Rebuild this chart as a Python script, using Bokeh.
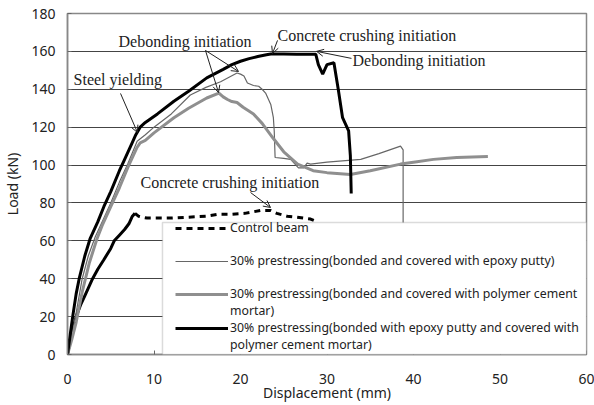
from bokeh.plotting import figure
from bokeh.models import (Range1d, FixedTicker, Legend, LegendItem, Label, Arrow,
                          OpenHead, BoxAnnotation)
from bokeh.embed import file_html
from bokeh.resources import INLINE

# ---------------- data ----------------
x_ticks = [0, 10, 20, 30, 40, 50, 60]
y_ticks = [0, 20, 40, 60, 80, 100, 120, 140, 160, 180]

ctrl_x = [0, 0.3, 0.6, 1.0, 1.5, 2.0, 2.9, 3.5, 4.2, 5.0, 5.4, 6.0, 6.6, 7.1, 7.5, 7.8,
          8.2, 8.6, 9.2, 10, 12, 14, 16, 17.3, 19, 20.5, 22.3, 23.5, 24.2, 25.4, 26.5,
          28.1, 28.9]
ctrl_y = [0, 7, 13, 20, 26, 31, 40, 45, 50, 56, 60, 63, 66, 69, 73, 74.5,
          73, 72.5, 72, 72, 72, 72.5, 73, 74, 74, 74.5, 76, 76, 74.5, 73, 72.5,
          71.5, 70]
ctrl_rise_end = 16   # the rising branch is drawn solid, the plateau dashed

epoxy_x = [0, 0.5, 1.0, 1.7, 2.4, 3.2, 4.0, 5.0, 6.0, 7.0, 8.05, 9, 10, 12, 14.2, 16,
           17.7, 19.6, 20.0, 20.4, 20.8, 21.5, 22.1, 22.5, 22.9, 23.5, 23.8, 23.9, 24.0,
           25.0, 25.8, 26.7, 27.3, 27.7, 28.1, 30, 33.9, 36, 38.5, 38.8, 38.8]
epoxy_y = [0, 10, 22, 40, 52, 62, 70, 80, 91, 101, 112.6, 116, 120, 127, 137, 141,
           144, 148.6, 148, 147, 143.3, 142, 141.6, 140, 138, 132, 125, 118, 104,
           103.5, 103, 98.5, 98.5, 101, 100.5, 101.5, 103, 106, 110, 108, 0]

pcm_x = [0, 0.5, 1.0, 1.7, 2.5, 3.4, 4.0, 5.0, 6.0, 7.0, 8.0, 8.4, 9, 10, 12.3, 14,
         16.1, 17.5, 18.0, 18.5, 19.0, 19.6, 20.3, 21.5, 22.5, 23.8, 25, 26.6, 28.4,
         30, 32.7, 35, 38.5, 40, 42.3, 45, 48.6]
pcm_y = [0, 8, 17, 33, 48, 61, 68, 78, 88, 99, 109, 111.7, 113, 117, 125, 130,
         135.4, 138, 136, 134.6, 133.5, 133, 130.5, 127, 122, 114, 107, 100.5, 97,
         96, 95, 97, 100.5, 101.5, 103, 104, 104.5]

mix_x = [0, 0.3, 0.6, 1.0, 1.35, 2.0, 2.6, 3.5, 4.2, 5.0, 6.0, 6.5, 7.0, 7.5, 7.9, 8.4,
         9.0, 10.4, 12.3, 14, 16.1, 18, 19, 20, 21, 22, 23, 23.5, 25, 26.5, 28.7, 29.0,
         29.5, 30.0, 30.8, 31.3, 31.8, 32.5, 32.7, 32.8]
mix_y = [0, 10, 20, 32, 40, 52, 61, 70, 78, 86, 97, 102, 107, 112, 116, 120,
         122.5, 127, 133.7, 139, 146, 150.5, 153, 154.8, 156.2, 157.3, 158.2, 158.6,
         158.6, 158.5, 158.5, 153, 148, 153, 154, 140, 125, 118, 105, 85]

labels = ["Control beam",
          "30% prestressing(bonded and covered with epoxy putty)",
          "30% prestressing(bonded and covered with polymer cement",
          "mortar)",
          "30% prestressing(bonded with epoxy putty and covered with",
          "polymer cement mortar)"]

# ---------------- figure ----------------
p = figure(width=594, height=405, output_backend="svg", toolbar_location=None,
           x_range=Range1d(0, 60), y_range=Range1d(0, 180),
           min_border_left=67, min_border_right=8, min_border_top=13,
           min_border_bottom=51)
p.background_fill_color = "white"
p.border_fill_color = "white"
p.outline_line_color = "#888888"
p.outline_line_width = 1.5

p.xgrid.grid_line_color = None
p.ygrid.grid_line_color = "#444444"
p.ygrid.grid_line_width = 1.2

p.xaxis.ticker = FixedTicker(ticks=x_ticks)
p.yaxis.ticker = FixedTicker(ticks=y_ticks)
for ax in (p.xaxis[0], p.yaxis[0]):
    ax.axis_line_color = "#888888"
    ax.axis_line_width = 1.5
    ax.major_tick_in = 4
    ax.major_tick_out = 0
    ax.major_tick_line_color = "#666666"
    ax.minor_tick_line_color = None
    ax.major_label_text_font = "Noto Sans"
    ax.major_label_text_font_size = "14px"
    ax.major_label_text_color = "#222222"
    ax.axis_label_text_font = "Noto Sans"
    ax.axis_label_text_font_size = "14px"
    ax.axis_label_text_font_style = "normal"
    ax.axis_label_text_color = "#222222"
p.xaxis.axis_label = "Displacement (mm)"
p.yaxis.axis_label = "Load (kN)"
p.xaxis.major_label_standoff = 19
p.xaxis.axis_label_standoff = -4
p.yaxis.major_label_standoff = 12
p.yaxis.axis_label_standoff = 6

r_ctrl_rise = p.line(ctrl_x[:ctrl_rise_end], ctrl_y[:ctrl_rise_end],
                     line_color="black", line_width=3)
r_ctrl = p.line(ctrl_x[ctrl_rise_end - 1:], ctrl_y[ctrl_rise_end - 1:],
                line_color="black", line_width=3, line_dash="6 5")
r_epoxy = p.line(epoxy_x, epoxy_y, line_color="#666666", line_width=1.2)
r_pcm = p.line(pcm_x, pcm_y, line_color="#8f8f8f", line_width=3)
r_mix = p.line(mix_x, mix_y, line_color="black", line_width=3)
r_blank = p.line([], [], line_alpha=0)   # used for the wrapped second lines

# legend panel (box) – drawn above the curves, below the legend entries
p.add_layout(BoxAnnotation(left=10.98, right=60, bottom=0, top=69.7,
                           fill_color="white", fill_alpha=1.0,
                           line_color="#888888", line_width=1.5,
                           level="annotation"))

legend = Legend(items=[LegendItem(label=labels[0], renderers=[r_ctrl]),
                       LegendItem(label=" ", renderers=[r_blank]),
                       LegendItem(label=labels[1], renderers=[r_epoxy]),
                       LegendItem(label=" ", renderers=[r_blank]),
                       LegendItem(label=labels[2], renderers=[r_pcm]),
                       LegendItem(label=labels[3], renderers=[r_blank]),
                       LegendItem(label=labels[4], renderers=[r_mix]),
                       LegendItem(label=labels[5], renderers=[r_blank])],
                location=(95, -12), orientation="vertical", level="overlay")
legend.label_text_font = "Noto Sans"
legend.label_text_font_size = "12.3px"
legend.label_text_color = "#222222"
legend.glyph_width = 53
legend.glyph_height = 16
legend.label_standoff = 2
legend.label_height = 16
legend.spacing = -3
legend.padding = 13
legend.margin = 0
legend.border_line_alpha = 0
legend.background_fill_alpha = 0
p.add_layout(legend, "center")

font = "Liberation Serif"
def note(x, y, text):
    p.add_layout(Label(x=x, y=y, text=text, text_font=font, text_font_size="16px",
                       text_color="#222222", text_baseline="middle", text_align="left"))

def arrow(x0, y0, x1, y1):
    p.add_layout(Arrow(end=OpenHead(size=7, line_color="#222222", line_width=1),
                       x_start=x0, y_start=y0, x_end=x1, y_end=y1,
                       line_color="#222222", line_width=1))

note(0.7, 145.2, "Steel yielding")
arrow(6.13, 137.8, 8.09, 117.2)
note(5.9, 165.3, "Debonding initiation")
arrow(15.95, 160.5, 19.77, 149.4)
arrow(15.95, 160.5, 17.46, 138.3)
note(24.28, 168.4, "Concrete crushing initiation")
arrow(24.28, 165.8, 23.7, 158.9)
note(32.95, 155.2, "Debonding initiation")
arrow(32.83, 156.3, 28.8, 160.0)
note(8.44, 90.8, "Concrete crushing initiation")
arrow(21.16, 85.5, 23.47, 77.6)

open("out.html", "w").write(file_html(p, INLINE))
